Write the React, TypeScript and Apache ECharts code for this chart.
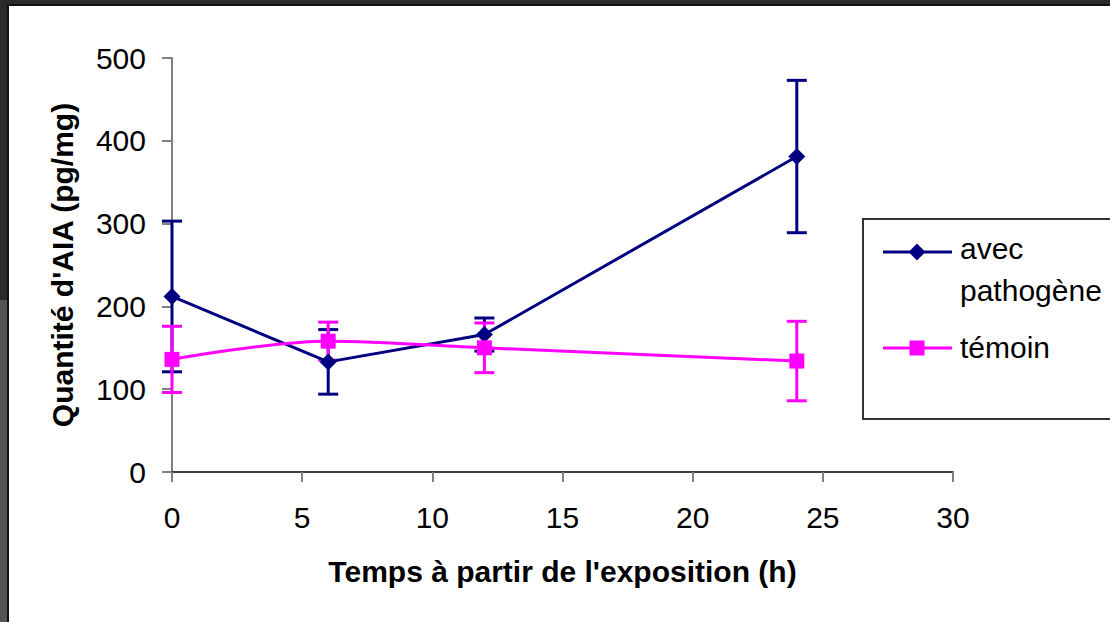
import React, { useEffect, useRef } from "react";
import * as echarts from "echarts";

const hours = [0, 6, 12, 24];
const avecPathogene = [212, 133, 166, 381];
const avecPathogeneErr = [91, 39, 20, 92];
const temoin = [136, 158, 150, 134];
const temoinErr = [40, 23, 30, 48];
const seriesNames = ["avec\npathogène", "témoin"];
const xTitle = "Temps à partir de l'exposition (h)";
const yTitle = "Quantité d'AIA (pg/mg)";

const BLUE = "#000080";
const MAGENTA = "#FF00FF";
const FONT = "'Liberation Sans', Arial, sans-serif";

function errorSeries(name: string, values: number[], errs: number[], color: string) {
  return {
    type: "custom",
    name,
    data: hours.map((h, i) => [h, values[i] - errs[i], values[i] + errs[i]]),
    encode: { x: 0, y: [1, 2] },
    z: 1,
    renderItem: (_params: any, api: any) => {
      const x = api.value(0);
      const lo = api.coord([x, api.value(1)]);
      const hi = api.coord([x, api.value(2)]);
      const w = 10;
      const style = { stroke: color, lineWidth: 3 };
      return {
        type: "group",
        children: [
          { type: "line", shape: { x1: lo[0], y1: lo[1], x2: hi[0], y2: hi[1] }, style },
          { type: "line", shape: { x1: lo[0] - w, y1: lo[1], x2: lo[0] + w, y2: lo[1] }, style },
          { type: "line", shape: { x1: hi[0] - w, y1: hi[1], x2: hi[0] + w, y2: hi[1] }, style },
        ],
      };
    },
  };
}

export default function App() {
  const ref = useRef<HTMLDivElement>(null);
  useEffect(() => {
    if (!ref.current) return;
    const chart = echarts.init(ref.current, null, { renderer: "svg" });
    const legendX = 854;
    chart.setOption({
      animation: false,
      backgroundColor: "#ffffff",
      textStyle: { fontFamily: FONT },
      grid: { left: 163, top: 52, width: 781, height: 414 },
      xAxis: {
        type: "value",
        min: 0,
        max: 30,
        interval: 5,
        name: xTitle,
        nameLocation: "middle",
        nameGap: 84,
        nameTextStyle: { fontSize: 30, fontWeight: "bold", color: "#000", fontFamily: FONT },
        axisLine: { lineStyle: { color: "#000", width: 1.5 } },
        axisTick: { show: true, length: 10, lineStyle: { color: "#808080", width: 2 } },
        axisLabel: { margin: 30, fontSize: 30, color: "#000", fontFamily: FONT },
        splitLine: { show: false },
      },
      yAxis: {
        type: "value",
        min: 0,
        max: 500,
        interval: 100,
        name: yTitle,
        nameLocation: "middle",
        nameGap: 95,
        nameRotate: 90,
        nameTextStyle: { fontSize: 30, fontWeight: "bold", color: "#000", fontFamily: FONT },
        axisLine: { show: true, lineStyle: { color: "#808080", width: 2 } },
        axisTick: { show: true, length: 10, lineStyle: { color: "#808080", width: 2 } },
        axisLabel: { margin: 26, fontSize: 30, color: "#000", fontFamily: FONT },
        splitLine: { show: false },
      },
      series: [
        errorSeries("errA", avecPathogene, avecPathogeneErr, BLUE),
        errorSeries("errT", temoin, temoinErr, MAGENTA),
        {
          type: "line",
          name: seriesNames[0],
          data: hours.map((h, i) => [h, avecPathogene[i]]),
          symbol: "diamond",
          symbolSize: 17,
          lineStyle: { color: BLUE, width: 3 },
          itemStyle: { color: BLUE },
          z: 3,
        },
        {
          type: "line",
          name: seriesNames[1],
          data: hours.map((h, i) => [h, temoin[i]]),
          symbol: "rect",
          symbolSize: 15,
          smooth: 0.35,
          lineStyle: { color: MAGENTA, width: 3 },
          itemStyle: { color: MAGENTA },
          z: 3,
        },
      ],
      graphic: [
        {
          type: "rect",
          shape: { x: legendX, y: 213, width: 300, height: 200 },
          style: { fill: "#fff", stroke: "#333", lineWidth: 2 },
        },
        {
          type: "line",
          shape: { x1: 874, y1: 246, x2: 943, y2: 246 },
          style: { stroke: BLUE, lineWidth: 3 },
        },
        {
          type: "polygon",
          shape: { points: [[908, 237.5], [916.5, 246], [908, 254.5], [899.5, 246]] },
          style: { fill: BLUE },
        },
        {
          type: "text",
          x: 951,
          y: 242,
          style: { text: "avec", fontSize: 30, fill: "#000", fontFamily: FONT, verticalAlign: "middle" },
        },
        {
          type: "text",
          x: 951,
          y: 284,
          style: { text: "pathogène", fontSize: 30, fill: "#000", fontFamily: FONT, verticalAlign: "middle" },
        },
        {
          type: "line",
          shape: { x1: 874, y1: 342, x2: 943, y2: 342 },
          style: { stroke: MAGENTA, lineWidth: 3 },
        },
        {
          type: "rect",
          shape: { x: 900.5, y: 334.5, width: 15, height: 15 },
          style: { fill: MAGENTA },
        },
        {
          type: "text",
          x: 951,
          y: 341,
          style: { text: seriesNames[1], fontSize: 30, fill: "#000", fontFamily: FONT, verticalAlign: "middle" },
        },
      ],
    });
    return () => chart.dispose();
  }, []);

  return (
    <div style={{ position: "fixed", left: 0, top: 0, width: 1110, height: 622, background: "#2b2b2b", overflow: "hidden" }}>
      <div style={{ position: "absolute", left: 0, top: 300, width: 7, height: 322, background: "#555" }} />
      <div style={{ position: "absolute", left: 7, top: 4, width: 1103, height: 618, background: "#111" }} />
      <div ref={ref} style={{ position: "absolute", left: 9, top: 6, width: 1101, height: 616, background: "#fff" }} />
    </div>
  );
}
